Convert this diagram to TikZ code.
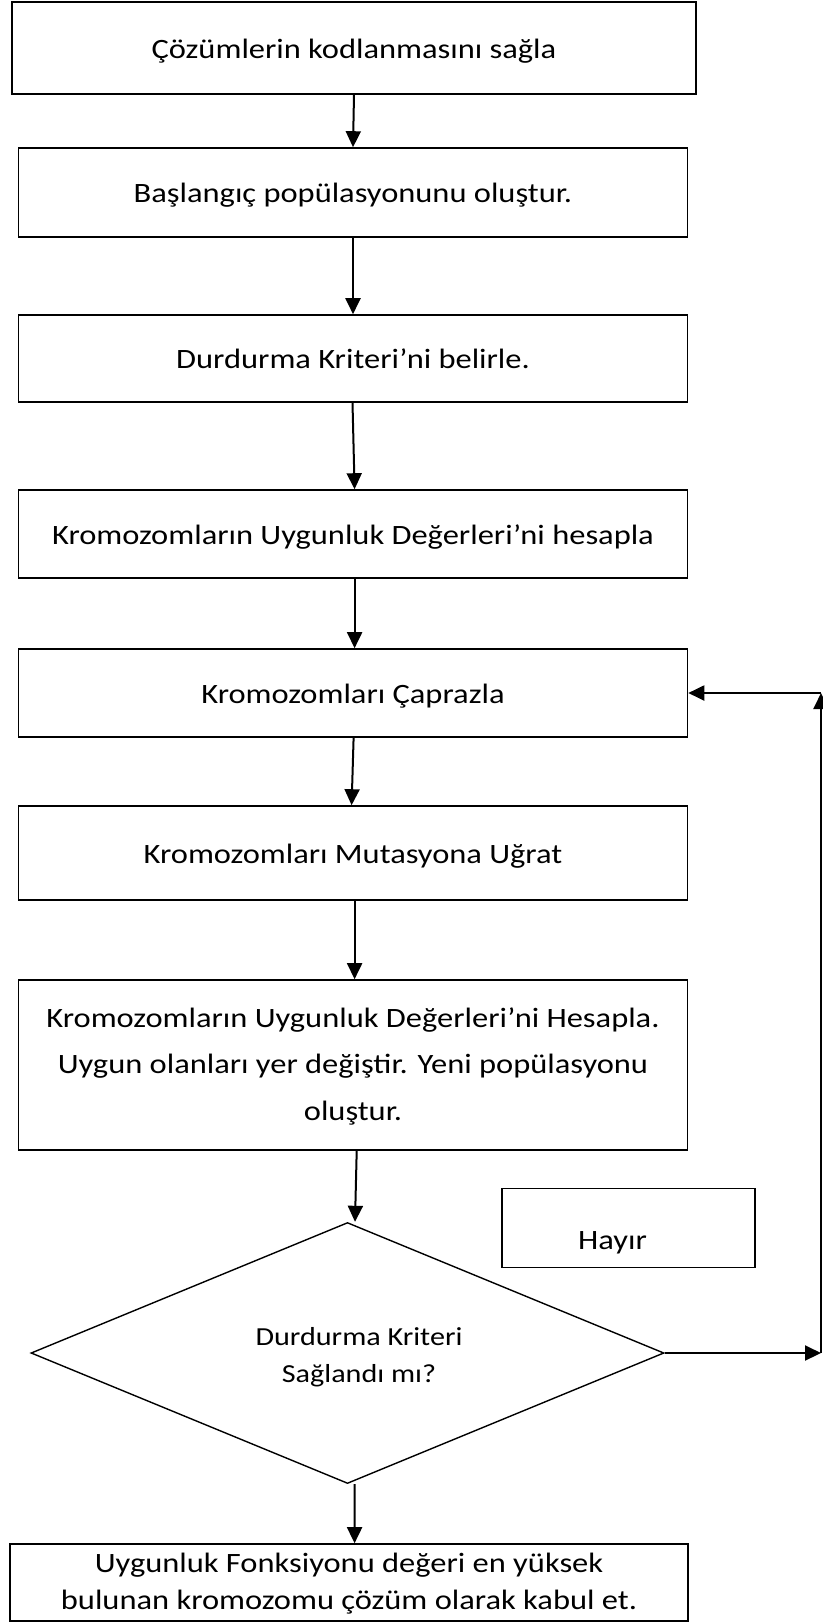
\documentclass[tikz,border=0pt]{standalone}
\usepackage{fontspec}
\setmainfont{Carlito}[FakeStretch=1.16]
\usetikzlibrary{shapes.geometric,arrows.meta}
\begin{document}
\begin{tikzpicture}[x=1pt,y=-1pt,
  txt/.style={font=\fontsize{28}{37}\selectfont},
  box/.style={draw,line width=1.6pt,inner sep=0pt,minimum width=669pt,align=center,txt,text height=20pt,text depth=0pt},
  decision/.style={draw,diamond,line width=1.4pt,inner sep=0pt,shape aspect=3,minimum width=633pt,minimum height=261pt},
  arr/.style={line width=2pt,-{Triangle[length=16pt,width=15pt]}}]
\useasboundingbox (0,0) rectangle (822,1622);

% process steps
\node[box,minimum width=684pt,minimum height=92pt] (b1) at (354,48) {Çözümlerin kodlanmasını sağla};
\node[box,minimum height=89pt] (b2) at (353,192.5) {Başlangıç popülasyonunu oluştur.};
\node[box,minimum height=87pt] (b3) at (353,358.5) {Durdurma Kriteri’ni belirle.};
\node[box,minimum height=88pt] (b4) at (353,534) {Kromozomların Uygunluk Değerleri’ni hesapla};
\node[box,minimum height=88pt] (b5) at (353,693) {Kromozomları Çaprazla};
\node[box,minimum height=94pt] (b6) at (353,853) {Kromozomları Mutasyona Uğrat};
\node[box,minimum height=170pt,font=\fontsize{28}{46.5}\selectfont,text height=110pt] (b7) at (353,1065) {Kromozomların Uygunluk Değerleri’ni Hesapla.\\Uygun olanları yer değiştir. Yeni popülasyonu\\oluştur.};

% stopping test
\node[decision] (d) at (347.5,1353) {};
\node[txt,align=center,inner sep=0pt,anchor=base,font=\fontsize{26}{37}\selectfont] (dt) at (359,1382) {Durdurma Kriteri\\Sağlandı mı?};

% final step
\node[box,minimum width=678pt,minimum height=77pt,text height=54pt] (b8) at (349,1582.5) {Uygunluk Fonksiyonu değeri en yüksek\\bulunan kromozomu çözüm olarak kabul et.};

% "Hayır" label box
\node[draw,line width=1.4pt,minimum width=253pt,minimum height=79pt] (h) at (628.5,1228) {};
\node[txt,inner sep=0pt,anchor=base west] (ht) at (578,1249) {Hayır};

\coordinate (c1) at (821,1353);
\coordinate (c2) at (821,693);

\draw[arr] (b1.south) -- (b2.north);
\draw[arr] (b2.south) -- (b3.north);
\draw[arr] ([xshift=-0.5pt]b3.south) -- ([xshift=1.6pt]b4.north);
\draw[arr] ([xshift=1.6pt]b4.south) -- ([xshift=1.6pt]b5.north);
\draw[arr] ([xshift=0.6pt]b5.south) -- ([xshift=-1.4pt]b6.north);
\draw[arr] ([xshift=1.6pt]b6.south) -- ([xshift=1.6pt]b7.north);
\draw[arr] ([xshift=3.7pt]b7.south) -- ([xshift=7.5pt]d.north);
\draw[arr] ([xshift=7pt]d.south) -- ([xshift=5.6pt]b8.north);
\draw[arr] (d.east) -- (c1);
\draw[arr] (c1) -- (c2);
\draw[arr] (c2) -- (b5.east);
\end{tikzpicture}
\end{document}
